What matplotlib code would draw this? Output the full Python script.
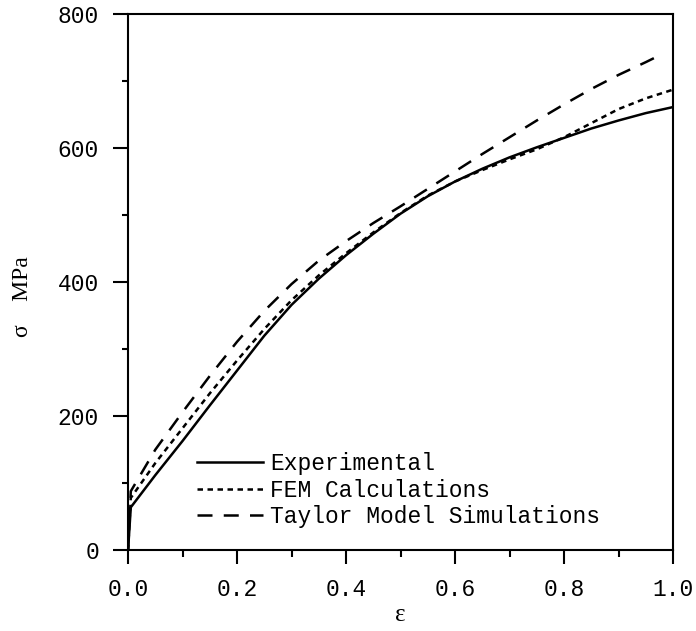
import matplotlib
matplotlib.use('Agg')
import matplotlib.pyplot as plt
from matplotlib.ticker import MultipleLocator

# strain values
eps = [0.0, 0.005, 0.05, 0.1, 0.15, 0.2, 0.25, 0.3, 0.35, 0.4, 0.45, 0.5,
       0.55, 0.6, 0.65, 0.7, 0.75, 0.8, 0.85, 0.9, 0.95, 1.0]
# 实验
sig_exp = [0, 64, 112, 163, 216, 268, 320, 366, 405, 440, 472, 502,
           528, 550, 569, 586, 601, 615, 629, 641, 652, 661]
# 有限元
sig_fem = [0, 78, 130, 182, 234, 283, 330, 373, 410, 443, 474, 503,
           529, 550, 567, 583, 598, 616, 637, 658, 674, 687]
# Taylor 模型
eps_tay = [0.0, 0.005, 0.05, 0.1, 0.15, 0.2, 0.25, 0.3, 0.35, 0.4, 0.45, 0.5,
           0.55, 0.6, 0.65, 0.7, 0.75, 0.8, 0.85, 0.9, 0.95, 0.975]
sig_tay = [0, 88, 150, 206, 260, 311, 357, 397, 432, 461, 488, 513,
           539, 565, 591, 616, 641, 665, 688, 709, 728, 738]

labels = ['Experimental', 'FEM Calculations', 'Taylor Model Simulations']

mono = 'Liberation Mono'
serif = 'Liberation Serif'

fig = plt.figure(figsize=[6.96, 6.31], dpi=100)
ax = fig.add_axes([0.184, 0.128, 0.783, 0.850])

line_color = 'black'
ax.plot(eps, sig_exp, color=line_color, linewidth=1.8, label=labels[0])
ax.plot(eps, sig_fem, color=line_color, linewidth=1.8,
        dashes=(2.2, 1.8), label=labels[1])
ax.plot(eps_tay, sig_tay, color=line_color, linewidth=1.8,
        dashes=(6, 4.5), label=labels[2])

ax.set_xlim(0, 1.0)
ax.set_ylim(0, 800)
ax.set_xticks([0.0, 0.2, 0.4, 0.6, 0.8, 1.0])
ax.set_yticks([0, 200, 400, 600, 800])
ax.set_xticklabels(['%.1f' % v for v in [0.0, 0.2, 0.4, 0.6, 0.8, 1.0]])
ax.set_yticklabels(['%d' % v for v in [0, 200, 400, 600, 800]])
ax.xaxis.set_minor_locator(MultipleLocator(0.1))
ax.yaxis.set_minor_locator(MultipleLocator(100))

for s in ax.spines.values():
    s.set_linewidth(1.5)
ax.tick_params(axis='x', which='major', direction='out', length=10,
               width=1.5, pad=10)
ax.tick_params(axis='x', which='minor', direction='out', length=5, width=1.5)
ax.tick_params(axis='y', which='major', direction='out', length=11,
               width=1.5, pad=10)
ax.tick_params(axis='y', which='minor', direction='out', length=4, width=1.5)
for t in ax.get_xticklabels() + ax.get_yticklabels():
    t.set_fontfamily(mono)
    t.set_fontsize(16.5)

fig.text(0.575, 0.025, 'ε', fontfamily=serif, fontsize=18, ha='center', va='center')
fig.text(0.032, 0.53, 'σ    MPa', fontfamily=serif, fontsize=17,
         rotation=90, ha='center', va='center')

leg = ax.legend(loc='lower left', bbox_to_anchor=(0.105, 0.02), frameon=False,
                prop={'family': mono, 'size': 16.5}, handlelength=2.9,
                handletextpad=0.3, labelspacing=0.15, borderpad=0)

plt.savefig('out.png', dpi=100)
